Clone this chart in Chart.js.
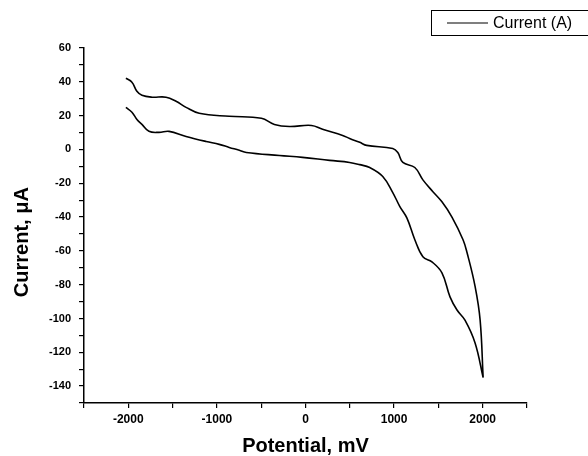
<!DOCTYPE html>
<html>
<head>
<meta charset="utf-8">
<script src="https://cdn.jsdelivr.net/npm/chart.js@4/dist/chart.umd.min.js"></script>
<style>
  html, body { margin: 0; padding: 0; background: #fff; }
  #wrap { width: 588px; height: 456px; position: relative; }
</style>
</head>
<body>
<div id="wrap"><canvas id="c" width="588" height="456"></canvas></div>
<script>
// Forward scan (lower branch), potential in mV and current in µA
const forwardPotential = [-2027, -1959, -1900, -1846, -1767, -1653, -1540, -1348, -1121, -974, -861, -747, -668, -294, -34, 272, 498, 612, 725, 872, 985, 1065, 1144, 1234, 1325, 1427, 1540, 1631, 1710, 1800, 1914, 2005];
const forwardCurrent   = [24.9, 22, 17.5, 14.8, 10.7, 10.1, 10.7, 7.7, 4.7, 3, 1.2, -0.5, -1.8, -3.6, -4.7, -6.5, -7.7, -9, -10.7, -16, -25.5, -33.8, -40.5, -53.4, -63.5, -66.5, -73, -87.2, -95, -101, -114.5, -135];
// Reverse scan (upper branch)
const reversePotential = [2005, 1971, 1914, 1823, 1778, 1653, 1540, 1438, 1325, 1234, 1099, 1042, 985, 691, 612, 498, 419, 193, 68, -181, -351, -498, -861, -1200, -1348, -1461, -1574, -1733, -1846, -1903, -1959, -2027];
const reverseCurrent   = [-135, -101, -81, -61, -53.4, -40, -31, -25, -18, -10.7, -7.7, -1.8, 0.6, 2.4, 4.2, 6.5, 8.3, 11.9, 14.2, 13.6, 14.8, 18.4, 19.6, 21.4, 24.9, 28.5, 30.9, 30.9, 32, 34.4, 39.8, 42.1];

const xTickLabels = [-2000, -1000, 0, 1000, 2000];
const yTickLabels = [60, 40, 20, 0, -20, -40, -60, -80, -100, -120, -140];
const seriesLabel = 'Current (A)';

const points = [];
forwardPotential.forEach((x, i) => points.push({x: x, y: forwardCurrent[i]}));
reversePotential.forEach((x, i) => points.push({x: x, y: reverseCurrent[i]}));

const FONT = "'Liberation Sans', Arial, sans-serif";

const legendBox = {
  id: 'legendBox',
  afterDraw(chart) {
    const ctx = chart.ctx;
    ctx.save();
    ctx.strokeStyle = '#000';
    ctx.lineWidth = 1;
    ctx.strokeRect(431.5, 10.5, 170, 25);
    ctx.beginPath();
    ctx.lineWidth = 1.2;
    ctx.moveTo(447, 23);
    ctx.lineTo(488, 23);
    ctx.stroke();
    ctx.fillStyle = '#000';
    ctx.font = "16px " + FONT;
    ctx.textBaseline = 'middle';
    ctx.textAlign = 'left';
    ctx.fillText(chart.data.datasets[0].label, 493, 24);
    ctx.restore();
  }
};

new Chart(document.getElementById('c'), {
  type: 'scatter',
  data: {
    datasets: [{
      label: seriesLabel,
      data: points,
      showLine: true,
      borderColor: '#000',
      borderWidth: 1.6,
      pointRadius: 0,
      tension: 0.4,
      fill: false
    }]
  },
  options: {
    responsive: false,
    animation: false,
    layout: { padding: { top: 48, right: 61, left: 0, bottom: 0 } },
    plugins: { legend: { display: false }, tooltip: { enabled: false } },
    scales: {
      x: {
        type: 'linear',
        min: -2500, max: 2500,
        afterFit(scale) { scale.height = 53; },
        border: { display: true, color: '#000', width: 1.5 },
        grid: { drawOnChartArea: false, drawTicks: true, tickLength: 5, color: '#000', lineWidth: 1.2 },
        ticks: {
          stepSize: 500, autoSkip: false, maxRotation: 0, padding: 4,
          color: '#000', font: { family: FONT, size: 12, weight: 'bold' },
          callback: (v) => xTickLabels.includes(v) ? String(v) : ''
        },
        title: {
          display: true, text: 'Potential, mV', color: '#000',
          font: { family: FONT, size: 20, weight: 'bold', lineHeight: 1 },
          padding: { top: 0, bottom: 0 }
        }
      },
      y: {
        type: 'linear',
        min: -150, max: 60,
        afterFit(scale) { scale.width = 84; },
        border: { display: true, color: '#000', width: 1.5 },
        grid: { drawOnChartArea: false, drawTicks: true, tickLength: 5, color: '#000', lineWidth: 1.2 },
        ticks: {
          stepSize: 10, autoSkip: false, padding: 8,
          color: '#000', font: { family: FONT, size: 11, weight: 'bold' },
          callback: (v) => yTickLabels.includes(v) ? String(v) : ''
        },
        title: {
          display: true, text: 'Current, \u03bcA      ', color: '#000',
          font: { family: FONT, size: 20, weight: 'bold', lineHeight: 1 },
          padding: { top: 12, bottom: 0 }
        }
      }
    }
  },
  plugins: [legendBox]
});
</script>
</body>
</html>
